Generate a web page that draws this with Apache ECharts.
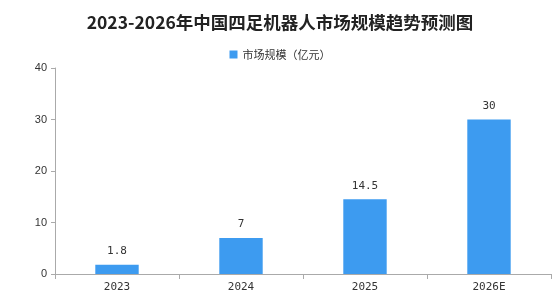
<!DOCTYPE html>
<html>
<head>
<meta charset="utf-8">
<script src="https://cdn.jsdelivr.net/npm/echarts@6/dist/echarts.min.js"></script>
<style>
  html, body { margin: 0; padding: 0; background: #fff; }
  #chart { width: 560px; height: 302px; }
</style>
</head>
<body>
<div id="chart"></div>
<script>
// 年份
const years = ['2023', '2024', '2025', '2026E']
// 市场规模（亿元）
const marketSize = [1.8, 7, 14.5, 30]
const seriesName = '市场规模（亿元）'

var myChart = echarts.init(document.getElementById('chart'))
var option = {
    animation: false,
    title: {
        text: '2023-2026年中国四足机器人市场规模趋势预测图',
        left: 'center',
        top: 9,
        textStyle: {
            color: '#222',
            fontSize: 17.5,
            fontWeight: 'bold',
            fontFamily: 'Noto Sans CJK SC'
        }
    },
    legend: {
        data: [{ name: seriesName, icon: 'rect' }],
        top: 44,
        left: 'center',
        itemWidth: 8,
        itemHeight: 8,
        itemGap: 4,
        textStyle: {
            color: '#333',
            fontSize: 11,
            fontFamily: 'Noto Sans CJK SC'
        }
    },
    grid: {
        left: 55,
        right: 9,
        top: 68,
        bottom: 28
    },
    xAxis: {
        type: 'category',
        data: years,
        axisLine: { lineStyle: { color: '#aaa' } },
        axisTick: { show: true, alignWithLabel: false, length: 5, lineStyle: { color: '#aaa' } },
        axisLabel: { color: '#333', fontSize: 11, margin: 8, fontFamily: 'DejaVu Sans Mono' }
    },
    yAxis: {
        type: 'value',
        min: 0,
        max: 40,
        interval: 10,
        splitLine: { show: false },
        axisLine: { show: true, lineStyle: { color: '#aaa' } },
        axisTick: { show: true, length: 4, lineStyle: { color: '#aaa' } },
        axisLabel: { color: '#333', fontSize: 11, margin: 8 }
    },
    series: [{
        name: seriesName,
        type: 'bar',
        data: marketSize,
        barWidth: '35%',
        itemStyle: { color: '#3d9bf0' },
        label: {
            show: true,
            position: 'top',
            distance: 8,
            color: '#333',
            fontSize: 11,
            fontFamily: 'DejaVu Sans Mono'
        }
    }]
}
myChart.setOption(option)
</script>
</body>
</html>
